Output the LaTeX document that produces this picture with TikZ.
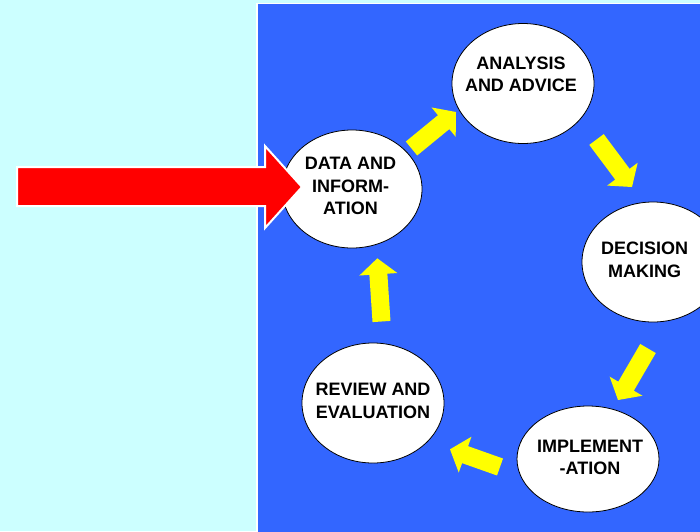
\documentclass[tikz,border=0pt]{standalone}
\usepackage{fontspec}
\setmainfont{Liberation Sans}
\usetikzlibrary{calc,shapes.geometric}
\definecolor{bgcyan}{HTML}{CCFFFF}
\definecolor{panelblue}{HTML}{3366FF}
\definecolor{arrowyellow}{HTML}{FFFF00}
\definecolor{arrowred}{HTML}{FF0000}
\tikzset{
  ell/.style={ellipse, draw=black, line width=0.8pt, fill=white, inner sep=0pt},
  lbl/.style={font=\fontsize{18}{22.5}\selectfont\bfseries, align=center, inner sep=0pt, text=black},
  yarrow/.style={fill=arrowyellow},
}
\newcommand\blockarrow[2]{%
  \coordinate (bh) at ($(#2)!16pt!(#1)$);
  \fill[yarrow] ($(#1)!9pt!90:(#2)$) -- ($(bh)!9pt!90:(#2)$) -- ($(bh)!19pt!90:(#2)$) -- (#2)
    -- ($(bh)!19pt!-90:(#2)$) -- ($(bh)!9pt!-90:(#2)$) -- ($(#1)!9pt!-90:(#2)$) -- cycle;
}
\begin{document}
\begin{tikzpicture}[x=1pt,y=-1pt]
\useasboundingbox (0,0) rectangle (700,531);
\fill[bgcyan] (0,0) rectangle (700,531);
\draw[white, line width=1.5pt, fill=panelblue] (257,3.5) rectangle (712,545);

% ellipses
\node[ell, minimum width=142pt, minimum height=120pt] (ana) at (523,83.5) {};
\node[ell, minimum width=140pt, minimum height=118pt] (dat) at (352,189) {};
\node[ell, minimum width=142pt, minimum height=120pt] (dec) at (653,262) {};
\node[ell, minimum width=142pt, minimum height=106pt] (imp) at (588,459) {};
\node[ell, minimum width=142pt, minimum height=120pt] (rev) at (373,403) {};

% labels
\node[lbl] (tana) at (521,74.5) {ANALYSIS\\AND ADVICE};
\node[lbl] (tdat) at (350.5,186) {DATA AND\\INFORM-\\ATION};
\node[lbl] (tdec) at (644.5,260) {DECISION\\MAKING};
\node[lbl] (timp) at (590,457.5) {IMPLEMENT\\-ATION};
\node[lbl] (trev) at (373,401) {REVIEW AND\\EVALUATION};

% yellow block arrows
\coordinate (t1) at (411.5,148.5); \coordinate (h1) at (456,112);
\coordinate (t2) at (596.5,139.5); \coordinate (h2) at (632,187);
\coordinate (t3) at (648,348.5);   \coordinate (h3) at (618,400);
\coordinate (t4) at (500,467);     \coordinate (h4) at (450,449.3);
\coordinate (t5) at (381.5,321.5); \coordinate (h5) at (377.3,258.3);
\blockarrow{t1}{h1}
\blockarrow{t2}{h2}
\blockarrow{t3}{h3}
\blockarrow{t4}{h4}
\blockarrow{t5}{h5}

% red input arrow
\coordinate (rtail) at (17,186.5);
\coordinate (rtip) at (302,187);
\draw[white, line width=2pt, fill=arrowred, line join=miter]
  (rtail |- 0,167) -- (265,167) -- (265,146) -- (rtip) -- (265,228) -- (265,206) -- (rtail |- 0,206) -- cycle;
\end{tikzpicture}
\end{document}
